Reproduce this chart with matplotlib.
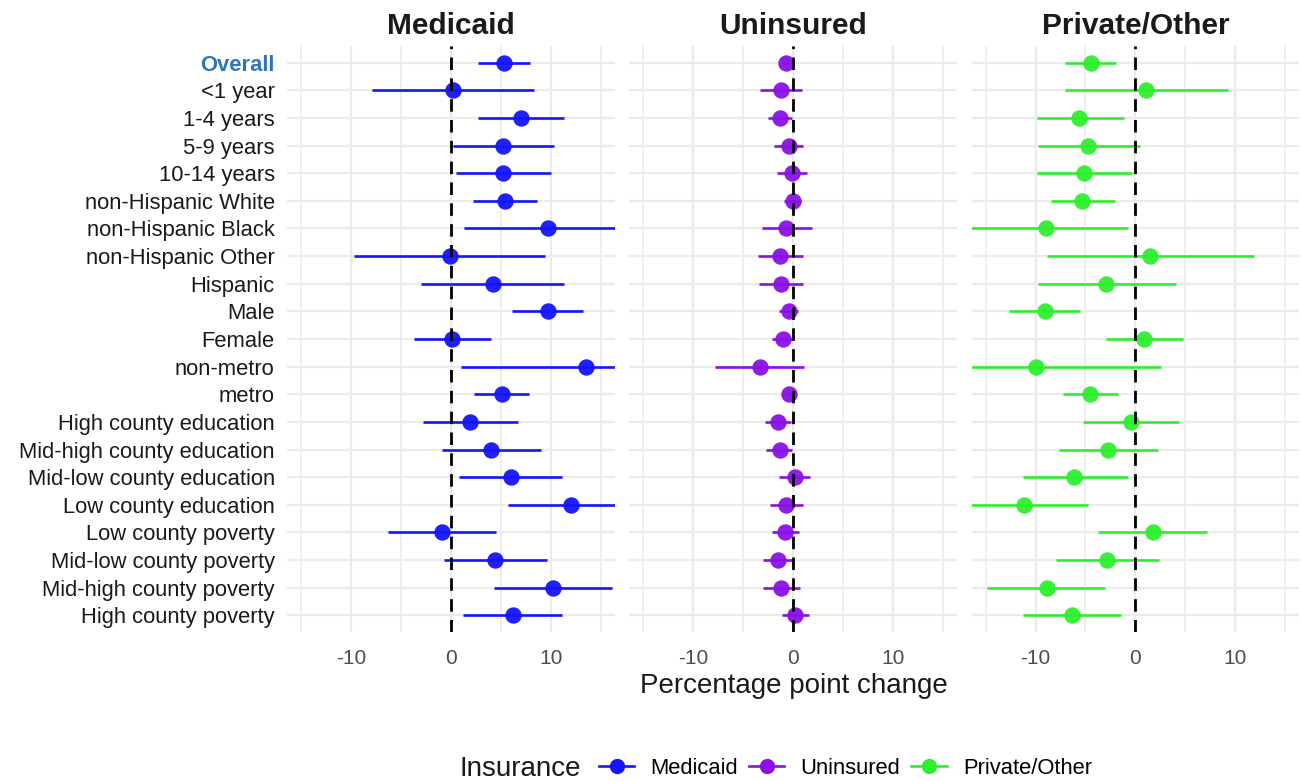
import matplotlib
matplotlib.use("Agg")
import matplotlib.pyplot as plt
from matplotlib.lines import Line2D

plt.rcParams['font.family'] = ['Liberation Sans', 'DejaVu Sans']

groups = ["Overall", "<1 year", "1-4 years", "5-9 years", "10-14 years",
          "non-Hispanic White", "non-Hispanic Black", "non-Hispanic Other",
          "Hispanic", "Male", "Female", "non-metro", "metro",
          "High county education", "Mid-high county education",
          "Mid-low county education", "Low county education",
          "Low county poverty", "Mid-low county poverty",
          "Mid-high county poverty", "High county poverty"]

insurance = ["Medicaid", "Uninsured", "Private/Other"]
colors = ["#1414ff", "#8a10e6", "#2cf02c"]

# point estimates and 95% CI bounds, percentage points
medicaid_est = [5.3, 0.2, 7.0, 5.2, 5.2, 5.4, 9.7, -0.1, 4.2, 9.7, 0.1,
                13.5, 5.1, 1.9, 4.0, 6.0, 12.0, -0.9, 4.4, 10.2, 6.2]
medicaid_lo = [2.7, -7.9, 2.7, 0.2, 0.5, 2.2, 1.3, -9.7, -3.0, 6.1, -3.7,
               1.0, 2.3, -2.8, -0.9, 0.8, 5.7, -6.3, -0.7, 4.3, 1.2]
medicaid_hi = [7.9, 8.3, 11.3, 10.3, 10.0, 8.6, 18.1, 9.4, 11.3, 13.2, 4.0,
               26.0, 7.8, 6.7, 9.0, 11.1, 18.3, 4.5, 9.6, 16.1, 11.1]

uninsured_est = [-0.7, -1.2, -1.3, -0.4, -0.1, 0.0, -0.7, -1.3, -1.2, -0.4, -1.0,
                 -3.3, -0.4, -1.5, -1.3, 0.2, -0.7, -0.8, -1.5, -1.2, 0.2]
uninsured_lo = [-1.0, -3.3, -2.5, -1.9, -1.6, -0.9, -3.1, -3.5, -3.4, -1.4, -2.1,
                -7.8, -0.7, -2.8, -2.7, -1.4, -2.3, -2.1, -3.0, -3.0, -1.1]
uninsured_hi = [-0.4, 0.9, -0.1, 1.0, 1.4, 0.8, 1.9, 1.0, 1.0, 0.5, 0.0,
                1.1, -0.1, -0.2, -0.1, 1.7, 1.0, 0.6, -0.1, 0.7, 1.6]

private_est = [-4.4, 1.1, -5.6, -4.7, -5.1, -5.3, -9.0, 1.5, -2.9, -9.1, 0.9,
               -10.0, -4.5, -0.4, -2.7, -6.1, -11.2, 1.8, -2.8, -8.9, -6.3]
private_lo = [-7.1, -7.1, -9.9, -9.8, -9.9, -8.5, -17.3, -8.9, -9.8, -12.7, -2.9,
              -22.6, -7.3, -5.2, -7.7, -11.3, -17.7, -3.7, -8.0, -14.9, -11.3]
private_hi = [-1.9, 9.3, -1.1, 0.5, -0.3, -2.0, -0.7, 11.9, 4.1, -5.5, 4.8,
              2.6, -1.7, 4.4, 2.3, -0.7, -4.7, 7.2, 2.4, -3.0, -1.4]

estimates = [medicaid_est, uninsured_est, private_est]
lowers = [medicaid_lo, uninsured_lo, private_lo]
uppers = [medicaid_hi, uninsured_hi, private_hi]

W, H = 1301, 782
fig, axes = plt.subplots(1, 3, figsize=(W / 100, H / 100), dpi=100, sharey=True)
fig.subplots_adjust(left=287.3 / W, right=1299.3 / W, bottom=1 - 632 / H,
                    top=1 - 46 / H, wspace=0.044)

ypos = list(range(len(groups)))
grid_col = "#ebebeb"

for i, ax in enumerate(axes):
    col = colors[i]
    ax.hlines(ypos, lowers[i], uppers[i], color=col, lw=1.9, zorder=3)
    ax.plot(estimates[i], ypos, "o", color=col, ms=11.8, mew=0, alpha=0.95, zorder=4)
    ax.axvline(0, color="black", lw=2.0, dashes=(4.5, 3), zorder=5)

    ax.set_xlim(-16.4, 16.4)
    ax.set_ylim(len(groups) - 0.4, -0.6)
    ax.set_xticks([-10, 0, 10])
    ax.set_xticklabels(["-10", "0", "10"])
    ax.set_xticks([-15, -5, 5, 15], minor=True)
    ax.set_yticks(ypos)
    ax.grid(True, which="major", color=grid_col, lw=1.6, zorder=0)
    ax.grid(True, which="minor", axis="x", color=grid_col, lw=1.2, zorder=0)
    ax.set_axisbelow(True)
    for s in ax.spines.values():
        s.set_visible(False)
    ax.tick_params(which="both", length=0)
    ax.tick_params(axis="x", labelsize=15, labelcolor="#4d4d4d", pad=12)
    ax.set_title(insurance[i], fontsize=21.5, fontweight="bold", pad=9, color="#1a1a1a")

axes[0].set_yticklabels(groups, fontsize=15.8, color="#1a1a1a")
axes[0].tick_params(axis="y", pad=9)
first = axes[0].get_yticklabels()[0]
first.set_color("#2f75b5")
first.set_fontweight("bold")

fig.text(793.5 / W, 1 - 686 / H, "Percentage point change", ha="center",
         va="center", fontsize=20, color="#1a1a1a")

# legend along the bottom, title on the left
fig.text(460 / W, 1 - 769 / H, "Insurance", ha="left", va="center",
         fontsize=20, color="#1a1a1a")
handles = [Line2D([0], [0], color=c, lw=1.9, marker="o", ms=11, mew=0)
           for c in colors]
fig.legend(handles, insurance, loc="center left", bbox_to_anchor=(599 / W, 1 - 768 / H),
           ncol=3, frameon=False, fontsize=15.8, handlelength=1.6,
           handletextpad=0.75, columnspacing=0.5, borderpad=0, borderaxespad=0)

fig.savefig("out.png", dpi=100, facecolor="white")
